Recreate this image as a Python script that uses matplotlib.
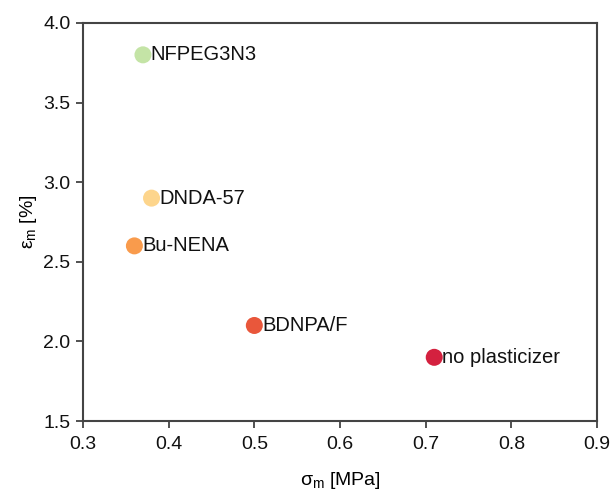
import matplotlib
matplotlib.use("Agg")
import matplotlib.pyplot as plt

plt.rcParams['font.family'] = ['Liberation Sans', 'DejaVu Sans']
plt.rcParams['mathtext.fontset'] = 'custom'
plt.rcParams['mathtext.rm'] = 'Liberation Sans'
plt.rcParams['mathtext.it'] = 'Liberation Sans'

labels = ["NFPEG3N3", "DNDA-57", "Bu-NENA", "BDNPA/F", "no plasticizer"]
sigma_m = [0.37, 0.38, 0.36, 0.50, 0.71]
eps_m = [3.8, 2.9, 2.6, 2.1, 1.9]
colors = ["#c4e4a6", "#fdd58c", "#f99b4c", "#e9573b", "#d4213f"]

fig = plt.figure(figsize=(6.13, 4.94), dpi=100)
ax = fig.add_axes([83/613, 1-421/494, (597-83)/613, (421-23)/494])

ax.scatter(sigma_m, eps_m, s=150, c=colors, edgecolors='none', zorder=3)
for x, y, t in zip(sigma_m, eps_m, labels):
    ax.annotate(t, (x, y), xytext=(5.5, 0), textcoords='offset points',
                va='center', ha='left', fontsize=14.5, color='#111111')

ax.set_xlim(0.3, 0.9)
ax.set_ylim(1.5, 4.0)
ax.set_xticks([0.3, 0.4, 0.5, 0.6, 0.7, 0.8, 0.9])
ax.set_yticks([1.5, 2.0, 2.5, 3.0, 3.5, 4.0])
ax.set_xticklabels(["0.3", "0.4", "0.5", "0.6", "0.7", "0.8", "0.9"])
ax.set_yticklabels(["1.5", "2.0", "2.5", "3.0", "3.5", "4.0"])
ax.tick_params(direction='out', length=5, width=1.2, labelsize=14,
               colors='#333333', labelcolor='#111111')
ax.tick_params(axis='x', pad=6)
ax.tick_params(axis='y', pad=4)
for sp in ax.spines.values():
    sp.set_linewidth(1.5)
    sp.set_color('#444444')

ax.set_xlabel(r"$\sigma_\mathrm{m}$ [MPa]", fontsize=14, labelpad=12)
ax.set_ylabel(r"$\varepsilon_\mathrm{m}$ [%]", fontsize=14, labelpad=3)

fig.savefig("out.png", dpi=100)
